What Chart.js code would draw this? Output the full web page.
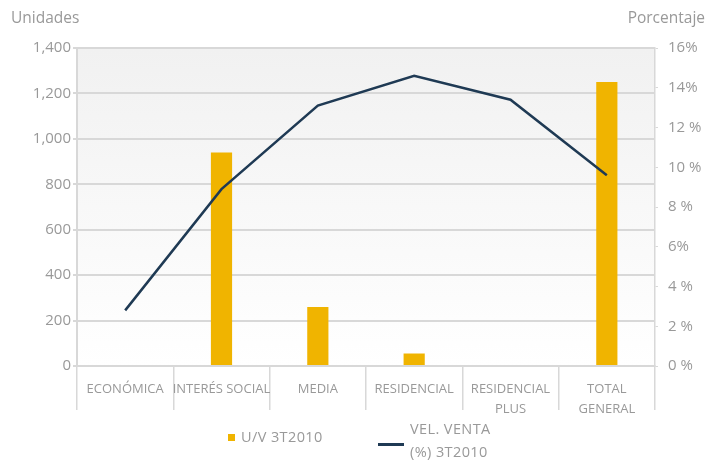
<!DOCTYPE html>
<html>
<head>
<meta charset="utf-8">
<script src="https://cdn.jsdelivr.net/npm/chart.js@4"></script>
<style>
  body { margin: 0; background: #fff; font-family: "Open Sans", sans-serif; color: #999; }
  #wrap { position: relative; width: 707px; height: 466px; }
  .lbl { position: absolute; font-size: 15.5px; color: #999; }
  .leg { position: absolute; font-size: 14.5px; color: #999; line-height: 23px; letter-spacing: 0.4px; }
</style>
</head>
<body>
<div id="wrap">
  <canvas id="chart" width="707" height="466"></canvas>
  <div class="lbl" style="left:11px;top:6px;">Unidades</div>
  <div class="lbl" style="right:2px;top:6px;">Porcentaje</div>
  <div class="leg" style="left:228px;top:425px;"><span style="display:inline-block;width:7px;height:7px;background:#f0b400;margin-right:6px;vertical-align:1px;"></span>U/V 3T2010</div>
  <div class="leg" style="left:378px;top:417px;"><span style="display:inline-block;width:26px;height:3px;background:#1f3a54;margin-right:6px;vertical-align:-12px;"></span><span style="display:inline-block;vertical-align:top;">VEL. VENTA<br>(%) 3T2010</span></div>
</div>
<script>
const categories = ["ECONÓMICA", "INTERÉS SOCIAL", "MEDIA", "RESIDENCIAL", ["RESIDENCIAL", "PLUS"], ["TOTAL", "GENERAL"]];
const unidades = [null, 940, 260, 55, null, 1250];
const velVenta = [2.8, 8.9, 13.1, 14.6, 13.4, 9.6];
const pctTicks = ["0 %", "2 %", "4 %", "6%", "8 %", "10 %", "12 %", "14%", "16%"];

const grey = "#999999";
const gridGrey = "#d8d8d8";

// light grey to white fill behind the plot
const plotBg = {
    id: "plotBg",
    beforeDraw(chart) {
        const { ctx, chartArea: a } = chart;
        const g = ctx.createLinearGradient(0, a.top, 0, a.bottom);
        g.addColorStop(0, "#f1f1f1");
        g.addColorStop(1, "#ffffff");
        ctx.save();
        ctx.fillStyle = g;
        ctx.fillRect(a.left, a.top, a.right - a.left, a.bottom - a.top);
        ctx.restore();
    }
};

new Chart(document.getElementById("chart"), {
    data: {
        labels: categories,
        datasets: [
            {
                type: "line",
                label: "VEL. VENTA (%) 3T2010",
                data: velVenta,
                yAxisID: "yPct",
                borderColor: "#1f3a54",
                borderWidth: 2.5,
                pointRadius: 0,
                tension: 0,
                order: 0
            },
            {
                type: "bar",
                label: "U/V 3T2010",
                data: unidades,
                yAxisID: "y",
                backgroundColor: "#f0b400",
                categoryPercentage: 1,
                barPercentage: 0.22,
                order: 1
            }
        ]
    },
    options: {
        responsive: false,
        animation: false,
        layout: { padding: { top: 48, left: 0, right: 0, bottom: 0 } },
        plugins: {
            legend: { display: false },
            tooltip: { enabled: false }
        },
        scales: {
            x: {
                offset: true,
                grid: { drawOnChartArea: false, drawTicks: true, tickLength: 44, color: gridGrey, lineWidth: 1.5 },
                border: { color: gridGrey, width: 2 },
                ticks: { color: grey, padding: -30, maxRotation: 0, autoSkip: false,
                    font: { family: "Open Sans", size: 13, lineHeight: 1.5 } },
                afterFit(s) { s.height = 100; }
            },
            y: {
                position: "left",
                min: 0,
                max: 1400,
                ticks: { stepSize: 200, color: grey, padding: 2, font: { family: "Open Sans", size: 15 },
                    callback: v => v.toLocaleString("en-US") },
                grid: { color: gridGrey, lineWidth: 2, tickLength: 4 },
                border: { color: gridGrey, width: 2 },
                afterFit(s) { s.width = 77; }
            },
            yPct: {
                position: "right",
                min: 0,
                max: 16,
                ticks: { stepSize: 2, color: grey, padding: 10, font: { family: "Open Sans", size: 15 },
                    callback: (v, i) => pctTicks[i] },
                grid: { drawOnChartArea: false, tickLength: 3, color: gridGrey },
                border: { color: gridGrey, width: 1.5 },
                afterFit(s) { s.width = 52; }
            }
        }
    },
    plugins: [plotBg]
});
</script>
</body>
</html>
